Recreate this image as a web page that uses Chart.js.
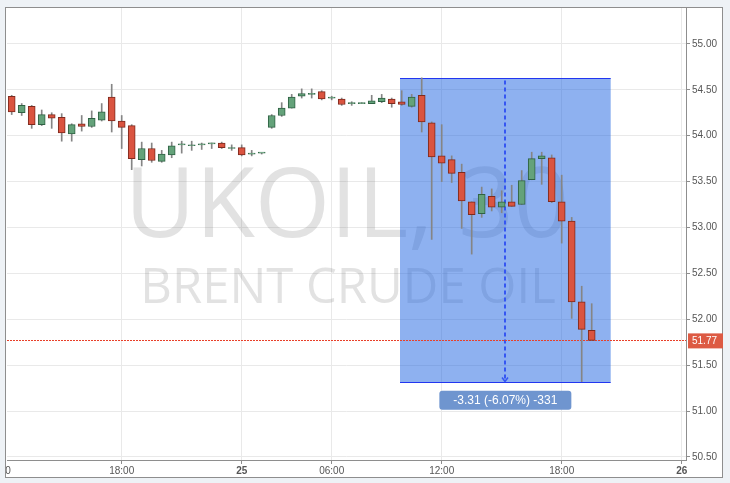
<!DOCTYPE html>
<html lang="en">
<head>
  <meta charset="UTF-8">
  <title>UKOIL,30</title>
  <script src="https://cdn.jsdelivr.net/npm/chart.js"></script>
  <style>
    html, body { margin: 0; padding: 0; background: #eef2f6; }
    #wrap { width: 730px; height: 483px; }
  </style>
</head>
<body>

<div id="wrap"><canvas id="grafico"></canvas></div>

<script>
  // 30 minute candles, one per slot (index 0..58)
  const opens  = [54.43, 54.25, 54.32, 54.12, 54.23, 54.20, 54.02, 54.13, 54.10, 54.17,
                  54.42, 54.16, 54.11, 53.74, 53.86, 53.72, 53.79, 53.90, 53.89, 53.90,
                  53.91, 53.92, 53.86, 53.87, 53.80, 53.81, 54.09, 54.22, 54.30, 54.43,
                  54.45, 54.48, 54.41, 54.40, 54.35, 54.35, 54.35, 54.37, 54.40, 54.37,
                  54.32, 54.44, 54.14, 53.78, 53.74, 53.60, 53.28, 53.15, 53.34, 53.22,
                  53.28, 53.25, 53.52, 53.75, 53.76, 53.28, 53.07, 52.19, 51.88];
  const highs  = [54.44, 54.35, 54.33, 54.28, 54.25, 54.24, 54.13, 54.22, 54.27, 54.35,
                  54.56, 54.22, 54.12, 53.93, 53.92, 53.84, 53.93, 53.94, 53.94, 53.92,
                  53.92, 53.93, 53.90, 53.90, 53.84, 53.81, 54.23, 54.36, 54.45, 54.51,
                  54.51, 54.49, 54.43, 54.41, 54.37, 54.36, 54.44, 54.45, 54.41, 54.49,
                  54.45, 54.63, 54.15, 54.12, 53.78, 53.69, 53.28, 53.44, 53.42, 53.40,
                  53.46, 53.62, 53.82, 53.82, 53.79, 53.57, 53.11, 52.36, 52.17];
  const lows   = [54.23, 54.22, 54.08, 54.11, 54.08, 53.94, 53.94, 54.05, 54.09, 54.16,
                  54.04, 53.86, 53.63, 53.67, 53.71, 53.71, 53.76, 53.81, 53.84, 53.85,
                  53.86, 53.86, 53.84, 53.78, 53.78, 53.80, 54.08, 54.21, 54.30, 54.41,
                  54.41, 54.39, 54.39, 54.33, 54.33, 54.35, 54.35, 54.36, 54.31, 54.33,
                  54.31, 54.04, 52.87, 53.50, 53.49, 52.99, 52.71, 53.11, 53.18, 53.16,
                  53.23, 53.25, 53.52, 53.47, 53.27, 52.83, 52.01, 51.32, 51.77];
  const closes = [54.26, 54.33, 54.12, 54.23, 54.19, 54.03, 54.12, 54.10, 54.19, 54.26,
                  54.16, 54.09, 53.75, 53.86, 53.73, 53.80, 53.89, 53.90, 53.89, 53.90,
                  53.91, 53.87, 53.87, 53.79, 53.80, 53.81, 54.22, 54.30, 54.42, 54.46,
                  54.46, 54.40, 54.41, 54.34, 54.36, 54.36, 54.38, 54.41, 54.35, 54.34,
                  54.42, 54.15, 53.77, 53.70, 53.59, 53.29, 53.14, 53.36, 53.22, 53.28,
                  53.23, 53.51, 53.75, 53.78, 53.28, 53.07, 52.19, 51.89, 51.77];

  // time axis: slot position of each label
  const tickPos  = [-0.37, 11, 23, 32, 43, 55, 67];
  const tickText = ['0', '18:00', '25', '06:00', '12:00', '18:00', '26'];
  const boldTicks = ['25', '26'];

  const priceTicks = [50.5, 51, 51.5, 52, 52.5, 53, 53.5, 54, 54.5, 55];
  const lastPrice = 51.77;

  // price range measure
  const measureFrom = 38.83, measureTo = 59.9;
  const measureTop = 54.63, measureBottom = 51.32;
  const measureLabel = '-3.31 (-6.07%) -331';

  const verde = '#64a27a', verdeBorde = '#2f6244';
  const rojo = '#da5440', rojoBorde = '#7e2a1e';

  const cuerpos = opens.map((o, i) => ({ x: i, y: [o, closes[i]] }));
  const mechas = highs.map((h, i) => ({ x: i, y: [lows[i], h] }));
  const sube = opens.map((o, i) => closes[i] >= o);

  const fondo = {
    id: 'fondo',
    beforeDraw(chart) {
      const c = chart.ctx;
      c.save();
      c.fillStyle = '#ffffff';
      c.fillRect(5, 7, 718, 471);
      c.restore();
    },
    beforeDatasetsDraw(chart) {
      const c = chart.ctx, a = chart.chartArea;
      const x = chart.scales.x, y = chart.scales.y;
      c.save();
      c.beginPath();
      c.rect(a.left, a.top, a.right - a.left, a.bottom - a.top);
      c.clip();
      // watermark
      c.fillStyle = 'rgba(100,100,100,0.19)';
      c.textAlign = 'center';
      c.textBaseline = 'alphabetic';
      c.font = '400 97px "Open Sans"';
      c.fillText('UKOIL, 30', 347, 237);
      c.font = '400 49px "Open Sans"';
      c.fillText('BRENT CRUDE OIL', 348, 303);
      // measure box
      const x1 = x.getPixelForValue(measureFrom), x2 = x.getPixelForValue(measureTo);
      const y1 = Math.round(y.getPixelForValue(measureTop)) + 0.5;
      const y2 = Math.round(y.getPixelForValue(measureBottom)) + 0.5;
      c.fillStyle = 'rgba(30,100,225,0.5)';
      c.fillRect(x1, y1, x2 - x1, y2 - y1);
      c.strokeStyle = '#2236f0';
      c.lineWidth = 1;
      c.beginPath();
      c.moveTo(x1, y1); c.lineTo(x2, y1);
      c.moveTo(x1, y2); c.lineTo(x2, y2);
      c.stroke();
      const xm = Math.round((x1 + x2) / 2);
      c.strokeStyle = '#3556f2';
      c.lineWidth = 2;
      c.setLineDash([4, 3]);
      c.beginPath();
      c.moveTo(xm, y1 + 2); c.lineTo(xm, y2 - 2);
      c.stroke();
      c.setLineDash([]);
      c.lineWidth = 1.5;
      c.beginPath();
      c.moveTo(xm - 3, y2 - 5); c.lineTo(xm, y2 - 1); c.lineTo(xm + 3, y2 - 5);
      c.stroke();
      // last price line
      const yp = Math.round(y.getPixelForValue(lastPrice)) + 0.5;
      c.strokeStyle = '#e8402a';
      c.lineWidth = 1;
      c.setLineDash([2, 1]);
      c.beginPath();
      c.moveTo(a.left, yp); c.lineTo(a.right, yp);
      c.stroke();
      c.restore();
    },
    afterDraw(chart) {
      const c = chart.ctx, a = chart.chartArea;
      const x = chart.scales.x, y = chart.scales.y;
      c.save();
      // frame
      c.strokeStyle = '#8e8e8e';
      c.lineWidth = 1;
      c.strokeRect(5.5, 7.5, 717, 470);
      // measure label
      const x1 = x.getPixelForValue(measureFrom), x2 = x.getPixelForValue(measureTo);
      const xm = (x1 + x2) / 2;
      const y2 = y.getPixelForValue(measureBottom);
      c.fillStyle = '#6f95cf';
      c.beginPath();
      c.roundRect(xm - 66, y2 + 9, 132, 19, 3);
      c.fill();
      c.fillStyle = '#ffffff';
      c.font = '12px "Liberation Sans", Arial';
      c.textAlign = 'center';
      c.textBaseline = 'middle';
      c.fillText(measureLabel, xm, y2 + 19);
      // last price tag
      const yp = y.getPixelForValue(lastPrice);
      c.fillStyle = '#dd5a43';
      c.fillRect(a.right + 2, yp - 7, 35, 15);
      c.fillStyle = '#ffffff';
      c.font = '10px "Liberation Sans", Arial';
      c.textAlign = 'left';
      c.fillText(lastPrice.toFixed(2), a.right + 6, yp + 0.5);
      c.restore();
    }
  };

  new Chart(document.getElementById('grafico'), {
    type: 'bar',
    data: {
      datasets: [
        {
          label: 'cuerpo',
          data: cuerpos,
          order: 1,
          grouped: false,
          barThickness: 7,
          minBarLength: 1,
          borderWidth: 1,
          borderSkipped: false,
          backgroundColor: sube.map(s => s ? verde : rojo),
          borderColor: sube.map(s => s ? verdeBorde : rojoBorde)
        },
        {
          label: 'mecha',
          data: mechas,
          order: 2,
          grouped: false,
          barThickness: 1,
          borderWidth: 0,
          backgroundColor: '#858585'
        }
      ]
    },
    options: {
      responsive: true,
      maintainAspectRatio: false,
      animation: false,
      layout: { padding: { left: 7, top: 7, right: 7, bottom: 5 } },
      plugins: { legend: { display: false }, tooltip: { enabled: false } },
      scales: {
        x: {
          type: 'linear',
          min: -0.47,
          max: 67.43,
          offset: false,
          afterBuildTicks: s => { s.ticks = tickPos.map(v => ({ value: v })); },
          afterFit: s => { s.height = 18; },
          border: { display: true, color: '#8e8e8e' },
          grid: {
            offset: false,
            color: c => c.index === 0 ? 'rgba(0,0,0,0)' : '#e9e9e9',
            tickColor: c => c.index === 0 ? 'rgba(0,0,0,0)' : '#8e8e8e',
            tickLength: 4
          },
          ticks: {
            autoSkip: false,
            maxRotation: 0,
            padding: 1,
            color: '#555',
            font: c => ({ family: '"Liberation Sans", Arial', size: 10,
                          weight: c.tick && boldTicks.includes(c.tick.label) ? 'bold' : 'normal' }),
            callback: (v, i) => tickText[i]
          }
        },
        y: {
          position: 'right',
          min: 50.467,
          max: 55.391,
          afterBuildTicks: s => { s.ticks = priceTicks.map(v => ({ value: v })); },
          afterFit: s => { s.width = 37; },
          border: { display: true, color: '#8e8e8e' },
          grid: { color: '#e9e9e9', tickColor: '#8e8e8e', tickLength: 4 },
          ticks: {
            padding: 2,
            color: '#555',
            font: { family: '"Liberation Sans", Arial', size: 10 },
            callback: v => v.toFixed(2)
          }
        }
      }
    },
    plugins: [fondo]
  });
</script>

</body>
</html>
